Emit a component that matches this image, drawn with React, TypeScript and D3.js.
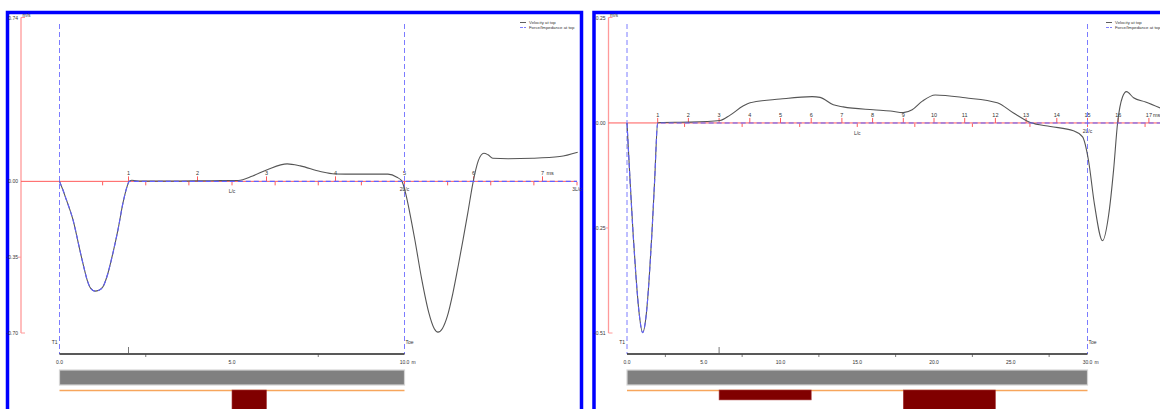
import React from "react";
import * as d3 from "d3";

// ---- left record: 10 m pile, wave speed 4000 m/s -> 2L/c = 5 ms
const leftVelT = [0, 0.05, 0.1, 0.15, 0.196, 0.25, 0.3, 0.35, 0.4, 0.45, 0.514, 0.57, 0.63, 0.7, 0.775, 0.85, 0.92, 0.978, 1.01, 1.05, 1.17, 1.6, 2.2, 2.59, 2.8, 3.01, 3.3, 3.49, 3.78, 3.99, 4.3, 4.76, 4.89, 4.96, 5.02, 5.08, 5.15, 5.25, 5.35, 5.43, 5.485, 5.55, 5.62, 5.7, 5.78, 5.85, 5.92, 5.99, 6.07, 6.15, 6.21, 6.28, 6.5, 6.86, 7.25, 7.51];
const leftVelV = [0, -0.04, -0.085, -0.13, -0.177, -0.25, -0.323, -0.39, -0.452, -0.49, -0.504, -0.5, -0.484, -0.424, -0.328, -0.218, -0.099, -0.025, 0, 0.005, 0.001, 0.001, 0.003, 0.004, 0.025, 0.053, 0.08, 0.071, 0.045, 0.034, 0.033, 0.033, 0.019, 0.002, -0.06, -0.15, -0.268, -0.45, -0.6, -0.675, -0.692, -0.675, -0.62, -0.515, -0.385, -0.265, -0.14, -0.01, 0.095, 0.129, 0.122, 0.106, 0.104, 0.106, 0.114, 0.134];
const leftForceT = [0, 0.05, 0.1, 0.15, 0.196, 0.25, 0.3, 0.35, 0.4, 0.45, 0.514, 0.57, 0.63, 0.7, 0.775, 0.85, 0.92, 0.978, 1.01, 7.5];
const leftForceV = [0, -0.04, -0.085, -0.13, -0.177, -0.25, -0.323, -0.39, -0.452, -0.49, -0.504, -0.5, -0.484, -0.424, -0.328, -0.218, -0.099, -0.025, 0, 0];
const leftMsTicks = [1, 2, 3, 4, 5, 6, 7];
const leftYTicks = [0.752, 0, -0.348, -0.696];
const leftYTickText = ["0.74", "0.00", "-0.35", "-0.70"];
const leftLcText = ["L/c", "2L/c", "3L/c"];
const leftMeterTicks = [0, 5, 10];
const leftMeterMinor = [2.5, 7.5];
const leftDefStart = [5];
const leftDefEnd = [6];
const leftDefDepth = [1];

// ---- right record: 30 m pile, wave speed 4000 m/s -> 2L/c = 15 ms
const rightVelT = [0, 0.1, 0.2, 0.3, 0.4, 0.51, 0.62, 0.72, 0.81, 0.9, 1.0, 1.08, 2.05, 3.03, 3.36, 3.78, 4.01, 4.99, 6.03, 6.29, 6.72, 7.04, 8.02, 8.58, 9.0, 9.29, 9.62, 10.04, 11.02, 12.06, 12.59, 13.14, 13.79, 14.54, 14.84, 15.03, 15.23, 15.49, 15.69, 15.85, 15.98, 16.14, 16.27, 16.5, 16.89, 17.38];
const rightVelV = [0, -0.14, -0.27, -0.38, -0.465, -0.509, -0.47, -0.38, -0.27, -0.14, 0, 0.001, 0.002, 0.006, 0.019, 0.041, 0.049, 0.058, 0.064, 0.062, 0.044, 0.039, 0.032, 0.029, 0.025, 0.032, 0.053, 0.068, 0.061, 0.049, 0.024, 0.001, -0.0085, -0.019, -0.034, -0.09, -0.199, -0.286, -0.223, -0.114, 0, 0.063, 0.076, 0.061, 0.051, 0.036];
const rightForceT = [0, 0.1, 0.2, 0.3, 0.4, 0.51, 0.62, 0.72, 0.81, 0.9, 1.0, 17.5];
const rightForceV = [0, -0.14, -0.27, -0.38, -0.465, -0.509, -0.47, -0.38, -0.27, -0.14, 0, 0];
const rightMsTicks = [1, 2, 3, 4, 5, 6, 7, 8, 9, 10, 11, 12, 13, 14, 15, 16, 17];
const rightYTicks = [0.256, 0, -0.255, -0.51];
const rightYTickText = ["0.25", "0.00", "-0.25", "-0.51"];
const rightLcText = ["L/c", "2L/c", "3L/c"];
const rightMeterTicks = [0, 5, 10, 15, 20, 25, 30];
const rightMeterMinor = [2.5, 7.5, 12.5, 17.5, 22.5, 27.5];
const rightDefStart = [6, 18];
const rightDefEnd = [12, 24];
const rightDefDepth = [0.45, 1];

const legendText = ["Velocity at top", "Force/Impedance at top"];

const FONT = "'Liberation Sans', Arial, sans-serif";
const RED = "#ff5a5a";
const PINK = "#ff9a9a";
const BLUE_DASH = "#6060ff";
const TEXT = "#333";

type PanelProps = {
  frameX0: number;
  frameX1: number;
  axisX: number;
  t1X: number;
  toeX: number;
  lengthM: number;
  twoLc: number;
  tMax: number;
  yMin: number;
  yMax: number;
  yTicks: number[];
  yTickText: string[];
  msTicks: number[];
  lcText: string[];
  meterTicks: number[];
  meterMinor: number[];
  sensorM: number;
  defStart: number[];
  defEnd: number[];
  defDepth: number[];
  velT: number[];
  velV: number[];
  forceT: number[];
  forceV: number[];
  legendX: number;
};

const Panel = (p: PanelProps) => {
  const x = d3.scaleLinear().domain([0, p.twoLc]).range([p.t1X, p.toeX]);
  const xm = d3.scaleLinear().domain([0, p.lengthM]).range([p.t1X, p.toeX]);
  const y = d3.scaleLinear().domain([p.yMin, p.yMax]).range([333, 17.5]);
  const depth = d3.scaleLinear().domain([0, 1]).range([0, 22]);
  const y0 = y(0);
  const xEnd = Math.min(x(p.tMax), 1160);

  const line = d3
    .line<[number, number]>()
    .x((d) => x(d[0]))
    .y((d) => y(d[1]))
    .curve(d3.curveMonotoneX);

  const vel = p.velT.map((t, i) => [t, p.velV[i]] as [number, number]);
  const force = p.forceT.map((t, i) => [t, p.forceV[i]] as [number, number]);

  // quarter-L/c ticks under the zero line
  const quarter = p.twoLc / 8;
  const minorT = d3.range(1, 13).map((k) => k * quarter).filter((t) => t <= p.tMax + 1e-6);

  const axisY = 354;
  const txt = { fontFamily: FONT, fontSize: 5.5, fill: TEXT };

  return (
    <g>
      {/* frame */}
      <rect x={p.frameX0} y={12.5} width={p.frameX1 - p.frameX0} height={420} fill="none" stroke="#0000ff" strokeWidth={3.5} />

      {/* y axis */}
      <line x1={p.axisX} x2={p.axisX} y1={y(p.yMax)} y2={y(p.yMin)} stroke={PINK} strokeWidth={1.3} />
      <line x1={p.axisX} x2={p.axisX + 4} y1={y(p.yMax)} y2={y(p.yMax)} stroke={PINK} />
      <line x1={p.axisX} x2={p.axisX + 4} y1={y(p.yMin)} y2={y(p.yMin)} stroke={PINK} />
      <line x1={p.axisX - 3} x2={p.axisX} y1={y(p.yTicks[2])} y2={y(p.yTicks[2])} stroke={PINK} />
      {p.yTicks.map((v, i) => (
        <text key={i} x={p.axisX - 3} y={y(v) + 2} textAnchor="end" {...txt} fontSize={5}>
          {p.yTickText[i]}
        </text>
      ))}
      <text x={p.axisX + 1.5} y={17} {...txt} fontSize={5}>
        m/s
      </text>

      {/* zero line with time ticks */}
      <line x1={p.axisX} x2={xEnd} y1={y0} y2={y0} stroke={RED} strokeWidth={1} />
      {p.msTicks.map((t) => (
        <g key={t}>
          <line x1={x(t)} x2={x(t)} y1={y0 - 5} y2={y0} stroke={RED} />
          <text x={x(t)} y={y0 - 6} textAnchor="middle" {...txt}>
            {t}
          </text>
        </g>
      ))}
      <text x={x(p.msTicks[p.msTicks.length - 1]) + 4} y={y0 - 6} {...txt}>
        ms
      </text>
      {minorT.map((t, i) => (
        <line key={i} x1={x(t)} x2={x(t)} y1={y0 + 0.5} y2={y0 + 4} stroke={RED} />
      ))}
      {p.lcText.map((s, i) => {
        const t = ((i + 1) * p.twoLc) / 2;
        return t <= p.tMax + 1e-6 ? (
          <text key={s} x={x(t)} y={y0 + (i === 0 ? 12 : 10)} textAnchor="middle" {...txt} fontSize={5}>
            {s}
          </text>
        ) : null;
      })}

      {/* T1 / Toe markers */}
      <line x1={x(0)} x2={x(0)} y1={24} y2={axisY} stroke="#7c7cff" strokeDasharray="5,3" />
      <line x1={x(p.twoLc)} x2={x(p.twoLc)} y1={24} y2={axisY} stroke="#7c7cff" strokeDasharray="5,3" />
      <text x={x(0) - 2} y={344} textAnchor="end" {...txt} fontSize={5}>
        T1
      </text>
      <text x={x(p.twoLc) + 1} y={344} {...txt} fontSize={5}>
        Toe
      </text>

      {/* traces */}
      <path d={line(vel) ?? ""} fill="none" stroke="#555" strokeWidth={1.1} />
      <path d={line(force) ?? ""} fill="none" stroke={BLUE_DASH} strokeWidth={1.1} strokeDasharray="5,3" />

      {/* legend */}
      <line x1={p.legendX} x2={p.legendX + 6} y1={22.5} y2={22.5} stroke="#333" strokeWidth={0.8} />
      <line x1={p.legendX} x2={p.legendX + 6} y1={27.5} y2={27.5} stroke={BLUE_DASH} strokeWidth={0.8} strokeDasharray="3,1" />
      {legendText.map((s, i) => (
        <text key={s} x={p.legendX + 9} y={24.2 + i * 5} {...txt} fontSize={4.3}>
          {s}
        </text>
      ))}

      {/* depth axis */}
      <line x1={xm(0)} x2={xm(p.lengthM)} y1={axisY} y2={axisY} stroke="#222" strokeWidth={1.6} />
      {p.meterMinor.map((m) => (
        <line key={m} x1={xm(m)} x2={xm(m)} y1={axisY} y2={axisY + 3} stroke="#444" strokeWidth={0.7} />
      ))}
      <line x1={xm(p.sensorM)} x2={xm(p.sensorM)} y1={axisY - 7} y2={axisY} stroke="#555" strokeWidth={0.8} />
      {p.meterTicks.map((m, i) => (
        <g key={m}>
          <text x={xm(m)} y={364} textAnchor="middle" {...txt} fontSize={5}>
            {m.toFixed(1)}
          </text>
          {i === p.meterTicks.length - 1 && (
            <text x={xm(m) + 7} y={364} {...txt} fontSize={5}>
              m
            </text>
          )}
        </g>
      ))}

      {/* pile profile */}
      <rect x={xm(0)} y={370} width={xm(p.lengthM) - xm(0)} height={15} fill="#808080" stroke="#d4d4d4" strokeWidth={1.2} />
      <line x1={xm(0)} x2={xm(p.lengthM)} y1={390.5} y2={390.5} stroke="#f7a65c" strokeWidth={1.4} />
      {p.defStart.map((s, i) => (
        <rect
          key={i}
          x={xm(s)}
          y={390}
          width={xm(p.defEnd[i]) - xm(s)}
          height={depth(p.defDepth[i])}
          fill="#800000"
          stroke="#a83a3a"
          strokeWidth={0.6}
        />
      ))}
    </g>
  );
};

export default function App() {
  return (
    <svg
      width={1160}
      height={409}
      style={{ position: "absolute", left: 0, top: 0, display: "block", background: "#fff" }}
    >
      <rect width={1160} height={409} fill="#fff" />
      <Panel
        frameX0={7.5}
        frameX1={581.5}
        axisX={21}
        t1X={59.5}
        toeX={404.5}
        lengthM={10}
        twoLc={5}
        tMax={7.5}
        yMin={-0.696}
        yMax={0.752}
        yTicks={leftYTicks}
        yTickText={leftYTickText}
        msTicks={leftMsTicks}
        lcText={leftLcText}
        meterTicks={leftMeterTicks}
        meterMinor={leftMeterMinor}
        sensorM={2}
        defStart={leftDefStart}
        defEnd={leftDefEnd}
        defDepth={leftDefDepth}
        velT={leftVelT}
        velV={leftVelV}
        forceT={leftForceT}
        forceV={leftForceV}
        legendX={520}
      />
      <Panel
        frameX0={594}
        frameX1={1175}
        axisX={608.5}
        t1X={627}
        toeX={1087.5}
        lengthM={30}
        twoLc={15}
        tMax={17.5}
        yMin={-0.51}
        yMax={0.256}
        yTicks={rightYTicks}
        yTickText={rightYTickText}
        msTicks={rightMsTicks}
        lcText={rightLcText}
        meterTicks={rightMeterTicks}
        meterMinor={rightMeterMinor}
        sensorM={6}
        defStart={rightDefStart}
        defEnd={rightDefEnd}
        defDepth={rightDefDepth}
        velT={rightVelT}
        velV={rightVelV}
        forceT={rightForceT}
        forceV={rightForceV}
        legendX={1106}
      />
    </svg>
  );
}
